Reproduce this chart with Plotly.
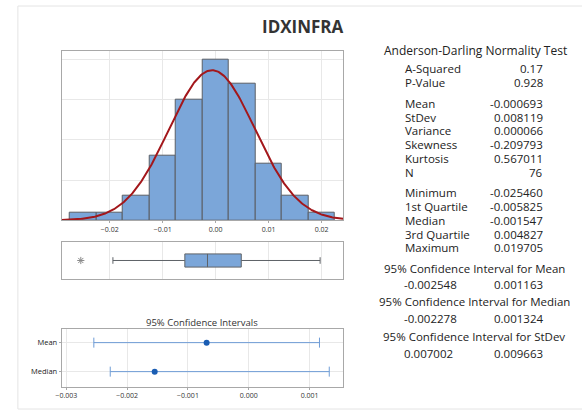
import numpy as np
import plotly.graph_objects as go

# ---------------- data ----------------
title = "IDXINFRA"
bin_centers = [-0.025, -0.020, -0.015, -0.010, -0.005, 0.000, 0.005, 0.010, 0.015, 0.020]
bin_counts = [1, 1, 3, 8, 15, 20, 17, 7, 3, 1]
bin_width = 0.005

mean = -0.000693
stdev = 0.008119
n_obs = 76

box_q1 = -0.005825
box_median = -0.001547
box_q3 = 0.004827
box_lower_whisker = -0.0194
box_upper_whisker = 0.019705
box_outliers = [-0.025460]

ci_labels = ["Mean", "Median"]
ci_points = [-0.000693, -0.001547]
ci_lower = [-0.002548, -0.002278]
ci_upper = [0.001163, 0.001324]

ad_header = "Anderson-Darling Normality Test"
stat_groups = [
    [("A-Squared", "0.17"), ("P-Value", "0.928")],
    [("Mean", "-0.000693"), ("StDev", "0.008119"), ("Variance", "0.000066"),
     ("Skewness", "-0.209793"), ("Kurtosis", "0.567011"), ("N", "76")],
    [("Minimum", "-0.025460"), ("1st Quartile", "-0.005825"), ("Median", "-0.001547"),
     ("3rd Quartile", "0.004827"), ("Maximum", "0.019705")],
]
ci_blocks = [
    ("95% Confidence Interval for Mean", "-0.002548", "0.001163"),
    ("95% Confidence Interval for Median", "-0.002278", "0.001324"),
    ("95% Confidence Interval for StDev", "0.007002", "0.009663"),
]

hist_ticks = [-0.02, -0.01, 0.00, 0.01, 0.02]
ci_ticks = [-0.003, -0.002, -0.001, 0.000, 0.001]

# ---------------- layout helpers ----------------
W, H = 582, 410
def px(x):
    return x / W
def py(y):
    return 1 - y / H

FONT = "Open Sans"
GRID = "#e8e8e8"
FRAME = "#a8a8a8"
BAR = "#7ba6d9"
BAR_LINE = "#5a5f66"
CURVE = "#a3171b"

hist_range = [-0.02906, 0.02406]
ci_range = [-0.003076, 0.001553]

fig = go.Figure()

# histogram
fig.add_trace(go.Bar(
    x=bin_centers, y=bin_counts, width=[bin_width] * len(bin_centers),
    marker=dict(color=BAR, line=dict(color=BAR_LINE, width=1)),
    xaxis="x", yaxis="y", showlegend=False, hoverinfo="x+y"))

# fitted normal curve
xs = np.linspace(hist_range[0], hist_range[1], 300)
ys = n_obs * bin_width * np.exp(-0.5 * ((xs - mean) / stdev) ** 2) / (stdev * np.sqrt(2 * np.pi))
fig.add_trace(go.Scatter(x=xs, y=ys, mode="lines", line=dict(color=CURVE, width=2),
                         xaxis="x", yaxis="y", showlegend=False, hoverinfo="skip"))

# boxplot
fig.add_trace(go.Box(
    q1=[box_q1], median=[box_median], q3=[box_q3],
    lowerfence=[box_lower_whisker], upperfence=[box_upper_whisker],
    y=[0], orientation="h", width=0.7, boxpoints=False,
    fillcolor=BAR, line=dict(color="#5f6368", width=1),
    xaxis="x2", yaxis="y2", showlegend=False))
fig.add_trace(go.Scatter(
    x=box_outliers, y=[0] * len(box_outliers), mode="markers",
    marker=dict(symbol="asterisk-open", size=6, color="#8a8a8a", line=dict(color="#8a8a8a", width=1)),
    xaxis="x2", yaxis="y2", showlegend=False))

# confidence intervals
ci_y = [1, 0]
fig.add_trace(go.Scatter(
    x=ci_points, y=ci_y, mode="markers",
    marker=dict(color="#1a5db3", size=6),
    error_x=dict(type="data", symmetric=False,
                 array=[u - p for u, p in zip(ci_upper, ci_points)],
                 arrayminus=[p - l for p, l in zip(ci_points, ci_lower)],
                 color="#6e9cd6", thickness=1, width=5),
    xaxis="x3", yaxis="y3", showlegend=False))

xdom = [px(56.3), px(340.7)]
common_frame = dict(showline=True, mirror=True, linecolor=FRAME, linewidth=1, zeroline=False)

fig.update_layout(
    width=W, height=H,
    margin=dict(l=0, r=0, t=0, b=0),
    paper_bgcolor="white", plot_bgcolor="white",
    font=dict(family=FONT, color="#333"),
    bargap=0,
    xaxis=dict(domain=xdom, range=hist_range, tickvals=hist_ticks, tickformat=".2f",
               showgrid=True, gridcolor=GRID, ticks="outside", ticklen=2, tickcolor=FRAME,
               tickfont=dict(size=7, color="#333"), anchor="y", **common_frame),
    yaxis=dict(domain=[py(220.3), py(50.7)], range=[0, 21.1], tickvals=[0, 5, 10, 15, 20],
               showticklabels=False, showgrid=True, gridcolor=GRID, ticks="", anchor="x",
               **common_frame),
    xaxis2=dict(domain=xdom, range=hist_range, tickvals=hist_ticks, showticklabels=False,
                showgrid=True, gridcolor=GRID, ticks="", anchor="y2", **common_frame),
    yaxis2=dict(domain=[py(279.3), py(241.7)], range=[-1, 1], showticklabels=False,
                showgrid=False, ticks="", anchor="x2", **common_frame),
    xaxis3=dict(domain=xdom, range=ci_range, tickvals=ci_ticks, tickformat=".3f",
                showgrid=True, gridcolor=GRID, ticks="outside", ticklen=2, tickcolor=FRAME,
                tickfont=dict(size=7, color="#333"), anchor="y3", **common_frame),
    yaxis3=dict(domain=[py(386.7), py(329.3)], range=[-0.52, 1.46], tickvals=ci_y,
                ticktext=ci_labels, showgrid=True, gridcolor=GRID, ticks="outside",
                ticklen=2, tickcolor=FRAME, tickfont=dict(size=7.5, color="#222"),
                anchor="x3", **common_frame),
)

annotations = []
annotations.append(dict(text="<b>" + title + "</b>", x=px(300), y=py(26.5), xref="paper", yref="paper",
                        showarrow=False, xanchor="center", yanchor="middle",
                        font=dict(size=17, color="#333", family=FONT)))
annotations.append(dict(text="95% Confidence Intervals", x=px(198.5), y=py(322.3),
                        xref="paper", yref="paper", showarrow=False,
                        xanchor="center", yanchor="middle",
                        font=dict(size=9.5, color="#333", family=FONT)))

# stats panel
stat_font = dict(size=11.5, color="#222", family=FONT)
annotations.append(dict(text=ad_header, x=px(474), y=py(50), xref="paper", yref="paper",
                        showarrow=False, xanchor="center", yanchor="middle",
                        font=dict(size=12, color="#222", family=FONT)))
group_starts = [68.3, 103.3, 192.7]
row_step = 13.8
for start, group in zip(group_starts, stat_groups):
    for i, (lab, val) in enumerate(group):
        yy = start + i * row_step
        annotations.append(dict(text=lab, x=px(401), y=py(yy), xref="paper", yref="paper",
                                showarrow=False, xanchor="left", yanchor="middle", font=stat_font))
        annotations.append(dict(text=val, x=px(545), y=py(yy), xref="paper", yref="paper",
                                showarrow=False, xanchor="right", yanchor="middle", font=stat_font))

ci_header_y = [268, 301.5, 336.5]
for (hdr, lo, hi), yy in zip(ci_blocks, ci_header_y):
    annotations.append(dict(text=hdr, x=px(473), y=py(yy), xref="paper", yref="paper",
                            showarrow=False, xanchor="center", yanchor="middle", font=stat_font))
    annotations.append(dict(text=lo, x=px(400), y=py(yy + 16.5), xref="paper", yref="paper",
                            showarrow=False, xanchor="left", yanchor="middle", font=stat_font))
    annotations.append(dict(text=hi, x=px(545), y=py(yy + 16.5), xref="paper", yref="paper",
                            showarrow=False, xanchor="right", yanchor="middle", font=stat_font))

fig.update_layout(annotations=annotations)

fig.add_shape(type="rect", xref="paper", yref="paper",
              x0=px(12), x1=1.02, y0=py(409), y1=py(6),
              line=dict(color="#e4e4e4", width=1), fillcolor="rgba(0,0,0,0)", layer="below")

fig.write_html("out.html")
